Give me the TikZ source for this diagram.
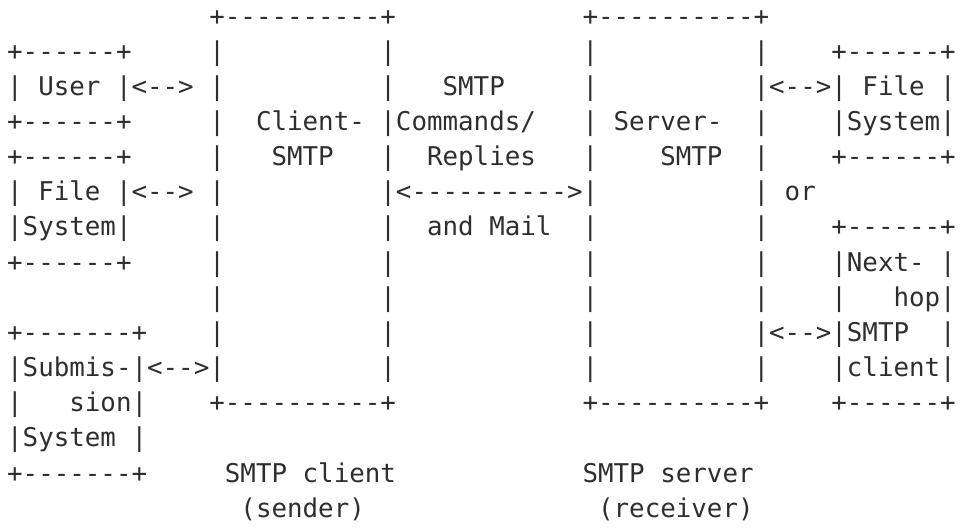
\documentclass[tikz,border=0pt]{standalone}
\usepackage{fontspec}
\setmonofont{DejaVu Sans Mono}
\definecolor{txt}{HTML}{2E2E2E}
\newcommand\Sk[1]{\hspace*{#1\fontdimen2\font}}
\tikzset{ln/.style={anchor=base west, inner sep=0pt, outer sep=0pt, text=txt,
  font=\ttfamily\fontsize{25.83}{35}\selectfont}}
\begin{document}
\begin{tikzpicture}[x=1pt,y=1pt]
\useasboundingbox (0,0) rectangle (962,531);
\def\X{7.2}
\node[ln] (l1)  at (\X,{505.95-35.15*0})  {\Sk{13}+----------+\Sk{12}+----------+};
\node[ln] (l2)  at (\X,{505.95-35.15*1})  {+------+\Sk{5}|\Sk{10}|\Sk{12}|\Sk{10}|\Sk{4}+------+};
\node[ln] (l3)  at (\X,{505.95-35.15*2})  {| User |<-->\Sk{1}|\Sk{10}|\Sk{3}SMTP\Sk{5}|\Sk{10}|<-->| File |};
\node[ln] (l4)  at (\X,{505.95-35.15*3})  {+------+\Sk{5}|\Sk{2}Client-\Sk{1}|Commands/\Sk{3}|\Sk{1}Server-\Sk{2}|\Sk{4}|System|};
\node[ln] (l5)  at (\X,{505.95-35.15*4})  {+------+\Sk{5}|\Sk{3}SMTP\Sk{3}|\Sk{2}Replies\Sk{3}|\Sk{4}SMTP\Sk{2}|\Sk{4}+------+};
\node[ln] (l6)  at (\X,{505.95-35.15*5})  {| File |<-->\Sk{1}|\Sk{10}|<---------->|\Sk{10}|\Sk{1}or};
\node[ln] (l7)  at (\X,{505.95-35.15*6})  {|System|\Sk{5}|\Sk{10}|\Sk{2}and Mail\Sk{2}|\Sk{10}|\Sk{4}+------+};
\node[ln] (l8)  at (\X,{505.95-35.15*7})  {+------+\Sk{5}|\Sk{10}|\Sk{12}|\Sk{10}|\Sk{4}|Next-\Sk{1}|};
\node[ln] (l9)  at (\X,{505.95-35.15*8})  {\Sk{13}|\Sk{10}|\Sk{12}|\Sk{10}|\Sk{4}|\Sk{3}hop|};
\node[ln] (l10) at (\X,{505.95-35.15*9})  {+-------+\Sk{4}|\Sk{10}|\Sk{12}|\Sk{10}|<-->|SMTP\Sk{2}|};
\node[ln] (l11) at (\X,{505.95-35.15*10}) {|Submis-|<-->|\Sk{10}|\Sk{12}|\Sk{10}|\Sk{4}|client|};
\node[ln] (l12) at (\X,{505.95-35.15*11}) {|\Sk{3}sion|\Sk{4}+----------+\Sk{12}+----------+\Sk{4}+------+};
\node[ln] (l13) at (\X,{505.95-35.15*12}) {|System\Sk{1}|};
\node[ln] (l14) at (\X,{505.95-35.15*13}) {+-------+\Sk{5}SMTP client\Sk{12}SMTP server};
\node[ln] (l15) at (\X,{505.95-35.15*14}) {\Sk{15}(sender)\Sk{15}(receiver)};
\end{tikzpicture}
\end{document}
